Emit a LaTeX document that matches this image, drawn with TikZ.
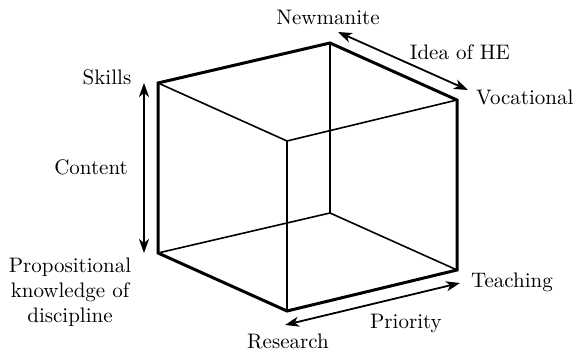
\documentclass[tikz,border=0pt]{standalone}
\usetikzlibrary{positioning}
\usetikzlibrary{arrows.meta}

\begin{document}
\begin{tikzpicture}[x=0.5pt,y=-0.5pt,>={Stealth[length=7pt,width=5pt,inset=2pt]},
                font=\fontsize{10.5}{12.5}\selectfont,
                edge/.style={line width=0.8pt},
                rim/.style={line width=1.5pt},
                axis/.style={<->,line width=0.9pt}]

  \useasboundingbox (0,0) rectangle (574,351);

  % corners of the cube
  \coordinate (ftl) at (158,83);
  \coordinate (bt)  at (330,43);
  \coordinate (rt)  at (457,100);
  \coordinate (it)  at (287,141);
  \coordinate (fbl) at (158,253);
  \coordinate (bb)  at (330,213);
  \coordinate (rb)  at (457,270);
  \coordinate (ib)  at (287,311);

  % inner edges
  \draw[edge] (ftl) -- (it) -- (rt);
  \draw[edge] (it) -- (ib);
  \draw[edge] (bt) -- (bb);
  \draw[edge] (fbl) -- (bb) -- (rb);
  % outline
  \draw[rim] (ftl) -- (bt) -- (rt) -- (rb) -- (ib) -- (fbl) -- cycle;

  % ends of the three axes
  \coordinate (skl) at (144,83);
  \coordinate (prp) at (144,253);
  \coordinate (new) at (338,32);
  \coordinate (voc) at (468,90);
  \coordinate (tch) at (460,283);
  \coordinate (res) at (285,325);

  \draw[axis] (skl) -- (prp);
  \draw[axis] (new) -- (voc);
  \draw[axis] (tch) -- (res);

  % labels
  \node (skills)  at (107,77)  {Skills};
  \node (content) at (91,167)  {Content};
  \node (prop)    at (70,292)  [align=center] {Propositional\\knowledge of\\discipline};
  \node (newman)  at (328,17)  {Newmanite};
  \node (idea)    at (460,52)  {Idea of HE};
  \node (vocat)   [right=6pt of rt, yshift=1.5pt] {Vocational};
  \node (teach)   at (512,282) {Teaching};
  \node (prio)    at (406,323) {Priority};
  \node (resrch)  at (288,341) {Research};
\end{tikzpicture}
\end{document}
